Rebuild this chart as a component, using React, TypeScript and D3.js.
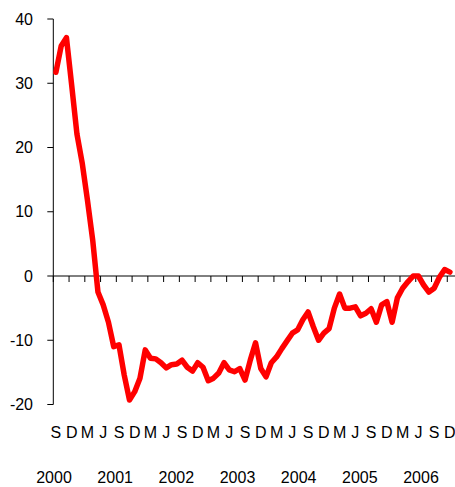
import React from "react";
import * as d3 from "d3";

// Monthly values, Sep 2000 .. Dec 2006
const values: number[] = [
  31.7, 35.8, 37.1, 29.7, 22.1, 17.6, 11.8, 5.6, -2.5, -4.5,
  -7.2, -11.0, -10.7, -15.4, -19.3, -18.0, -15.9, -11.5, -12.8, -12.9,
  -13.5, -14.3, -13.8, -13.7, -13.1, -14.2, -14.8, -13.5, -14.2, -16.3,
  -15.9, -15.1, -13.5, -14.6, -14.9, -14.4, -16.2, -13.1, -10.4, -14.4,
  -15.7, -13.5, -12.6, -11.3, -10.1, -8.9, -8.4, -6.8, -5.6, -7.9,
  -10.0, -8.9, -8.2, -5.0, -2.8, -5.0, -5.0, -4.8, -6.2, -5.8,
  -5.1, -7.2, -4.5, -4.0, -7.2, -3.4, -1.9, -0.9, 0.0, 0.0,
  -1.4, -2.5, -1.9, -0.2, 1.0, 0.6,
];
const quarterLetters: string[] = ["S", "D", "M", "J"];
const years: string[] = ["2000", "2001", "2002", "2003", "2004", "2005", "2006"];
const yTicks: number[] = [-20, -10, 0, 10, 20, 30, 40];

const W = 455;
const H = 487;
const left = 53.3;
const monthW = 5.253;
const font = "'Liberation Sans', Arial, sans-serif";

export default function App() {
  const idx = values.map((_, i) => i);
  const x = d3
    .scaleBand<number>()
    .domain(idx)
    .range([left, left + monthW * values.length])
    .paddingInner(0)
    .paddingOuter(0);
  const y = d3.scaleLinear().domain([-20, 40]).range([404.5, 19]);
  const cx = (i: number) => (x(i) as number) + x.bandwidth() / 2;

  const line = d3
    .line<number>()
    .x((_, i) => cx(i))
    .y((d) => y(d));

  const quarterIdx = idx.filter((i) => i % 3 === 0);
  const yearX = d3.scalePoint<string>().domain(years).range([54, 421]);

  return (
    <svg
      width={W}
      height={H}
      style={{ position: "absolute", left: 0, top: 0, background: "#fff" }}
    >
      {/* y axis */}
      <line x1={left} x2={left} y1={y(40)} y2={y(-20)} stroke="#000" strokeWidth={1} />
      {yTicks.map((t) => (
        <g key={t}>
          <line x1={left - 6} x2={left} y1={y(t)} y2={y(t)} stroke="#000" strokeWidth={1} />
          <text
            x={33}
            y={y(t)}
            textAnchor="end"
            dominantBaseline="central"
            fontFamily={font}
            fontSize={16}
            fill="#000"
          >
            {t}
          </text>
        </g>
      ))}
      {/* x axis at zero */}
      <line x1={left} x2={W} y1={y(0)} y2={y(0)} stroke="#000" strokeWidth={1} />
      {quarterIdx.map((i) => (
        <line
          key={"t" + i}
          x1={x(i) as number}
          x2={x(i) as number}
          y1={y(0)}
          y2={y(0) + 6}
          stroke="#000"
          strokeWidth={1}
        />
      ))}
      {quarterIdx.map((i, k) => (
        <text
          key={"m" + i}
          x={cx(i)}
          y={438}
          textAnchor="middle"
          fontFamily={font}
          fontSize={16}
          fill="#000"
        >
          {quarterLetters[k % 4]}
        </text>
      ))}
      {years.map((yr) => (
        <text
          key={yr}
          x={yearX(yr)}
          y={483}
          textAnchor="middle"
          fontFamily={font}
          fontSize={16}
          fill="#000"
        >
          {yr}
        </text>
      ))}
      <path
        d={line(values) || ""}
        fill="none"
        stroke="#ff0000"
        strokeWidth={5.5}
        strokeLinejoin="round"
        strokeLinecap="round"
      />
    </svg>
  );
}
